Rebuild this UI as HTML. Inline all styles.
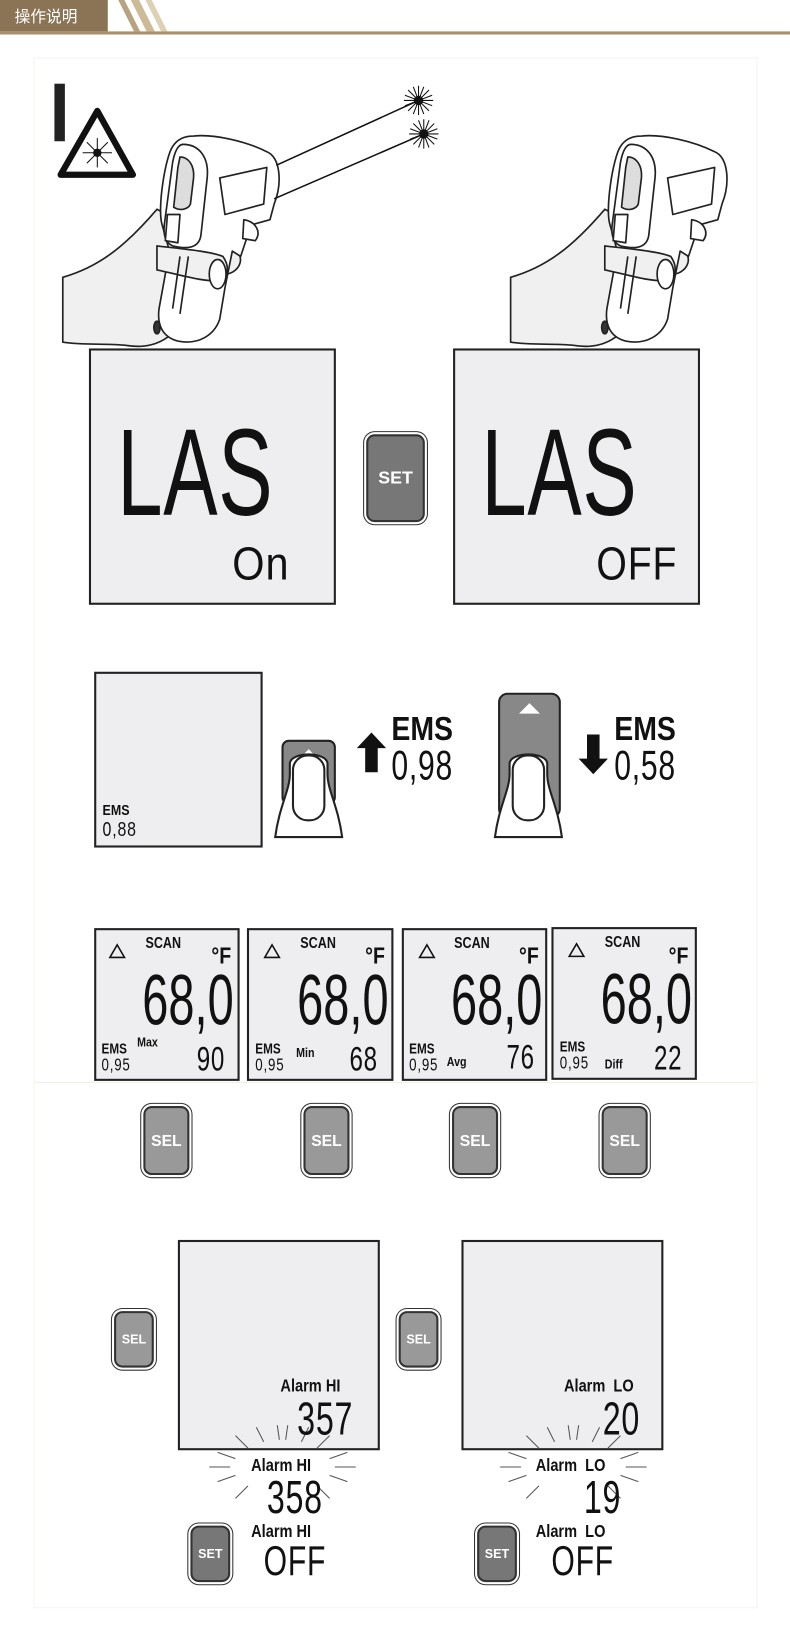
<!DOCTYPE html>
<html><head><meta charset="utf-8"><style>
html,body{margin:0;padding:0;background:#fff;width:790px;height:1640px;overflow:hidden}
#w{position:absolute;left:0;top:0;width:755px;height:1568px;transform:scale(1.04636);transform-origin:0 0;font-family:"Liberation Sans","Noto Sans CJK SC",sans-serif}
.a{position:absolute}
.lcd{position:absolute;background:#eeeef0;border:2px solid #222;box-sizing:border-box}
.seg{position:absolute;font-family:"Liberation Sans",sans-serif;color:#111;transform-origin:0 0;white-space:nowrap;line-height:1;letter-spacing:1px}
.b{position:absolute;font-weight:bold;font-family:"Liberation Sans",sans-serif;color:#111;transform-origin:0 0;white-space:nowrap;line-height:1}
.btn{position:absolute;border:2px solid #333;border-radius:8px;box-shadow:0 0 0 2px #fff,0 0 0 3px #333;color:#fff;font-weight:bold;display:flex;align-items:center;justify-content:center;font-family:"Liberation Sans",sans-serif}
</style></head><body><div id="w">
<div class="a" style="left:0;top:0;width:103px;height:30px;background:#8a7455"></div>
<div class="a" style="left:14px;top:5px;color:#fff;font-size:15px;font-family:'Noto Sans CJK SC',sans-serif">操作说明</div>
<svg class="a" style="left:95px;top:0" width="70" height="31"><polygon points="8,0 18,0 33,30 23,30" fill="#fff"/><polygon points="18,0 24,0 39,30 33,30" fill="#b8a380"/><polygon points="24,0 30,0 45,30 39,30" fill="#fff"/><polygon points="30,0 38,0 53,30 45,30" fill="#cdbb98"/><polygon points="38,0 44,0 59,30 53,30" fill="#fff"/><polygon points="44,0 50,0 65,30 59,30" fill="#ddd0b5"/></svg>
<div class="a" style="left:0;top:30px;width:755px;height:3px;background:#a8916d"></div>
<div class="a" style="left:32px;top:55px;width:690px;height:1480px;border:1px solid #f6f3ee"></div>

<svg class="a" style="left:0;top:60px" width="755" height="280" viewBox="0 60 755 280">
<rect x="52" y="80" width="10" height="55" fill="#222"/>
<polygon points="93,106 127,167 58,167" fill="none" stroke="#111" stroke-width="6" stroke-linejoin="round"/>
<g stroke="#111" stroke-width="1"><line x1="93" y1="132" x2="93" y2="160"/><line x1="79" y1="146" x2="107" y2="146"/><line x1="83" y1="136" x2="103" y2="156"/><line x1="103" y1="136" x2="83" y2="156"/></g><circle cx="93" cy="146" r="4" fill="#111"/>
<g id="gun" fill="#fff" stroke="#222" stroke-width="1.6" stroke-linejoin="round">
<path d="M60,265 C95,255 120,235 150,200 L215,235 C240,240 230,265 210,262 C190,262 190,260 180,262 L175,300 C170,320 150,335 120,330 C100,328 80,330 60,327 Z" fill="#f0f0f1"/>
<path d="M185,130 C205,128 235,135 255,145 C268,150 270,175 262,195 L258,210 L240,215 L230,245 L222,240 L215,275 L210,305 C205,320 190,330 170,326 C155,322 150,310 152,295 L162,240 L155,215 C150,200 158,150 165,140 C170,132 178,130 185,130 Z"/>
<path d="M175,138 C190,138 200,150 198,170 L192,225 C190,238 178,238 165,235 C158,232 156,225 157,215 L165,155 C167,145 170,138 175,138 Z"/>
<path d="M172,150 C180,150 186,158 185,170 L182,195 C180,200 172,202 166,198 L170,160 Z" fill="#ddd"/>
<path d="M160,205 L172,205 L170,232 L158,230 Z"/>
<path d="M210,170 L255,160 L252,195 L215,205 Z"/>
<path d="M233,210 C245,212 250,222 244,230 L232,228 Z"/>
<path d="M150,235 C175,238 200,240 213,245 C220,255 218,265 210,268 C195,270 170,262 150,258 Z" fill="#f0f0f1"/>
<ellipse cx="208" cy="262" rx="8" ry="14" fill="#fff"/>
<path d="M165,295 L172,245 M172,300 L180,245" fill="none"/>
<ellipse cx="150" cy="313" rx="3" ry="6" fill="#333"/>
</g>
<use href="#gun" transform="translate(428,0)"/>
<g stroke="#111" stroke-width="1.5"><line x1="264" y1="158" x2="400" y2="96"/><line x1="262" y1="190" x2="405" y2="128"/></g>
<g stroke="#111" stroke-width="1"><g transform="translate(400,96)"><line x1="-14" y1="0" x2="14" y2="0"/><line x1="0" y1="-14" x2="0" y2="14"/><line x1="-10" y1="-10" x2="10" y2="10"/><line x1="10" y1="-10" x2="-10" y2="10"/><line x1="-5" y1="-13" x2="5" y2="13"/><line x1="5" y1="-13" x2="-5" y2="13"/><line x1="-13" y1="5" x2="13" y2="-5"/><line x1="-13" y1="-5" x2="13" y2="5"/><circle r="4" fill="#111"/></g>
<g transform="translate(405,128)"><line x1="-14" y1="0" x2="14" y2="0"/><line x1="0" y1="-14" x2="0" y2="14"/><line x1="-10" y1="-10" x2="10" y2="10"/><line x1="10" y1="-10" x2="-10" y2="10"/><line x1="-5" y1="-13" x2="5" y2="13"/><line x1="5" y1="-13" x2="-5" y2="13"/><line x1="-13" y1="5" x2="13" y2="-5"/><line x1="-13" y1="-5" x2="13" y2="5"/><circle r="4" fill="#111"/></g></g>
</svg>

<!-- LAS screens -->
<div class="lcd" style="left:85px;top:333px;width:236px;height:245px"></div>
<div class="seg" style="left:112px;top:393px;font-size:118px;transform:scaleX(0.66)">LAS</div>
<div class="seg" style="left:222px;top:518px;font-size:44px;transform:scaleX(0.9)">On</div>
<div class="lcd" style="left:433px;top:333px;width:236px;height:245px"></div>
<div class="seg" style="left:460px;top:393px;font-size:118px;transform:scaleX(0.66)">LAS</div>
<div class="seg" style="left:570px;top:518px;font-size:44px;transform:scaleX(0.85)">OFF</div>
<div class="btn" style="left:350px;top:415px;width:52px;height:80px;background:#777;font-size:17px">SET</div>

<!-- EMS row -->
<div class="lcd" style="left:90px;top:642px;width:161px;height:168px"></div>
<div class="b" style="left:98px;top:767px;font-size:14px;transform:scaleX(0.85)">EMS</div>
<div class="seg" style="left:98px;top:784px;font-size:19px;transform:scaleX(0.8)">0,88</div>
<svg class="a" style="left:255px;top:660px" width="340" height="145">
<rect x="15" y="48" width="50" height="60" rx="6" fill="#888" stroke="#222" stroke-width="2"/><polygon points="40,56 50,66 30,66" fill="#fff"/>
<path d="M8,140 C12,110 22,95 22,80 L22,70 C22,58 58,58 58,70 L58,80 C58,95 68,110 72,140 Z" fill="#fff" stroke="#222" stroke-width="2"/>
<rect x="25" y="62" width="30" height="62" rx="14" fill="#fff" stroke="#222" stroke-width="2"/>
<polygon points="100,40 86,55 94,55 94,78 106,78 106,55 114,55" fill="#111"/>
<rect x="222" y="3" width="58" height="118" rx="8" fill="#888" stroke="#222" stroke-width="2"/><polygon points="251,12 261,22 241,22" fill="#fff"/>
<path d="M218,140 C222,110 232,95 232,80 L232,70 C232,58 268,58 268,70 L268,80 C268,95 278,110 282,140 Z" fill="#fff" stroke="#222" stroke-width="2"/>
<rect x="235" y="62" width="30" height="62" rx="14" fill="#fff" stroke="#222" stroke-width="2"/>
<polygon points="312,80 298,65 306,65 306,42 318,42 318,65 326,65" fill="#111"/>
</svg>
<div class="b" style="left:374px;top:680px;font-size:32px;transform:scaleX(0.85)">EMS</div>
<div class="seg" style="left:374px;top:712px;font-size:40px;transform:scaleX(0.72)">0,98</div>
<div class="b" style="left:587px;top:680px;font-size:32px;transform:scaleX(0.85)">EMS</div>
<div class="seg" style="left:587px;top:712px;font-size:40px;transform:scaleX(0.72)">0,58</div>

<!-- 4 screens -->
<div class="a" style="left:32px;top:1034px;width:690px;height:1px;background:#f5eee2"></div>
<div class="lcd" style="left:90px;top:887px;width:139px;height:146px"></div>
<div class="lcd" style="left:236px;top:887px;width:140px;height:146px"></div>
<div class="lcd" style="left:384px;top:887px;width:139px;height:146px"></div>
<div class="lcd" style="left:527px;top:886px;width:139px;height:146px"></div>
<svg class="a" style="left:0;top:890px" width="755" height="30"><g fill="none" stroke="#111" stroke-width="1.5"><polygon points="112,13 119,25 105,25"/><polygon points="260,13 267,25 253,25"/><polygon points="408,13 415,25 401,25"/><polygon points="551,12 558,24 544,24"/></g></svg>
<div class="b" style="left:139px;top:894px;font-size:15px;transform:scaleX(0.8)">SCAN</div>
<div class="b" style="left:287px;top:894px;font-size:15px;transform:scaleX(0.8)">SCAN</div>
<div class="b" style="left:434px;top:894px;font-size:15px;transform:scaleX(0.8)">SCAN</div>
<div class="b" style="left:578px;top:893px;font-size:15px;transform:scaleX(0.8)">SCAN</div>
<div class="b" style="left:202px;top:903px;font-size:22px;transform:scaleX(0.85)">°F</div>
<div class="b" style="left:349px;top:903px;font-size:22px;transform:scaleX(0.85)">°F</div>
<div class="b" style="left:496px;top:903px;font-size:22px;transform:scaleX(0.85)">°F</div>
<div class="b" style="left:639px;top:903px;font-size:22px;transform:scaleX(0.85)">°F</div>
<div class="seg" style="left:136px;top:922px;font-size:68px;transform:scaleX(0.66);letter-spacing:0">68,0</div>
<div class="seg" style="left:284px;top:922px;font-size:68px;transform:scaleX(0.66);letter-spacing:0">68,0</div>
<div class="seg" style="left:431px;top:922px;font-size:68px;transform:scaleX(0.66);letter-spacing:0">68,0</div>
<div class="seg" style="left:574px;top:921px;font-size:68px;transform:scaleX(0.66);letter-spacing:0">68,0</div>
<div class="b" style="left:97px;top:995px;font-size:14px;transform:scaleX(0.8)">EMS</div><div class="seg" style="left:97px;top:1009px;font-size:17px;transform:scaleX(0.75)">0,95</div>
<div class="b" style="left:244px;top:995px;font-size:14px;transform:scaleX(0.8)">EMS</div><div class="seg" style="left:244px;top:1009px;font-size:17px;transform:scaleX(0.75)">0,95</div>
<div class="b" style="left:391px;top:995px;font-size:14px;transform:scaleX(0.8)">EMS</div><div class="seg" style="left:391px;top:1009px;font-size:17px;transform:scaleX(0.75)">0,95</div>
<div class="b" style="left:535px;top:993px;font-size:14px;transform:scaleX(0.8)">EMS</div><div class="seg" style="left:535px;top:1007px;font-size:17px;transform:scaleX(0.75)">0,95</div>
<div class="b" style="left:131px;top:990px;font-size:12px;transform:scaleX(0.85)">Max</div>
<div class="b" style="left:283px;top:1000px;font-size:12px;transform:scaleX(0.85)">Min</div>
<div class="b" style="left:427px;top:1009px;font-size:12px;transform:scaleX(0.85)">Avg</div>
<div class="b" style="left:578px;top:1011px;font-size:12px;transform:scaleX(0.85)">Diff</div>
<div class="seg" style="left:188px;top:995px;font-size:33px;transform:scaleX(0.7)">90</div>
<div class="seg" style="left:334px;top:995px;font-size:33px;transform:scaleX(0.7)">68</div>
<div class="seg" style="left:484px;top:993px;font-size:33px;transform:scaleX(0.7)">76</div>
<div class="seg" style="left:625px;top:994px;font-size:33px;transform:scaleX(0.7)">22</div>
<div class="btn" style="left:137px;top:1057px;width:40px;height:62px;background:#999;font-size:15px">SEL</div>
<div class="btn" style="left:290px;top:1057px;width:40px;height:62px;background:#999;font-size:15px">SEL</div>
<div class="btn" style="left:432px;top:1057px;width:40px;height:62px;background:#999;font-size:15px">SEL</div>
<div class="btn" style="left:575px;top:1057px;width:40px;height:62px;background:#999;font-size:15px">SEL</div>

<!-- Alarm -->
<div class="lcd" style="left:170px;top:1185px;width:193px;height:201px"></div>
<div class="lcd" style="left:441px;top:1185px;width:193px;height:201px"></div>
<div class="btn" style="left:109px;top:1253px;width:34px;height:50px;background:#999;font-size:12px">SEL</div>
<div class="btn" style="left:381px;top:1253px;width:34px;height:50px;background:#999;font-size:12px">SEL</div>
<div class="btn" style="left:182px;top:1458px;width:34px;height:50px;background:#777;font-size:12px">SET</div>
<div class="btn" style="left:456px;top:1458px;width:34px;height:50px;background:#777;font-size:12px">SET</div>
<svg class="a" style="left:0;top:1350px" width="755" height="100"><g stroke="#555" stroke-width="1" fill="none">
<g transform="translate(270,52)"><line x1="-70" y1="0" x2="-50" y2="0"/><line x1="50" y1="0" x2="70" y2="0"/><line x1="-62" y1="-14" x2="-45" y2="-8"/><line x1="45" y1="-8" x2="62" y2="-14"/><line x1="-62" y1="14" x2="-45" y2="8"/><line x1="45" y1="8" x2="62" y2="14"/><line x1="-45" y1="-30" x2="-33" y2="-18"/><line x1="33" y1="-18" x2="45" y2="-30"/><line x1="-25" y1="-38" x2="-18" y2="-24"/><line x1="18" y1="-24" x2="25" y2="-38"/><line x1="-5" y1="-40" x2="-3" y2="-26"/><line x1="5" y1="-40" x2="3" y2="-26"/><line x1="-45" y1="30" x2="-33" y2="18"/><line x1="33" y1="18" x2="45" y2="30"/></g>
<g transform="translate(548,52)"><line x1="-70" y1="0" x2="-50" y2="0"/><line x1="50" y1="0" x2="70" y2="0"/><line x1="-62" y1="-14" x2="-45" y2="-8"/><line x1="45" y1="-8" x2="62" y2="-14"/><line x1="-62" y1="14" x2="-45" y2="8"/><line x1="45" y1="8" x2="62" y2="14"/><line x1="-45" y1="-30" x2="-33" y2="-18"/><line x1="33" y1="-18" x2="45" y2="-30"/><line x1="-25" y1="-38" x2="-18" y2="-24"/><line x1="18" y1="-24" x2="25" y2="-38"/><line x1="-5" y1="-40" x2="-3" y2="-26"/><line x1="5" y1="-40" x2="3" y2="-26"/><line x1="-45" y1="30" x2="-33" y2="18"/><line x1="33" y1="18" x2="45" y2="30"/></g></g></svg>
<div class="b" style="left:268px;top:1316px;font-size:17px;transform:scaleX(0.82)">Alarm HI</div>
<div class="seg" style="left:284px;top:1335px;font-size:44px;transform:scaleX(0.7)">357</div>
<div class="b" style="left:539px;top:1316px;font-size:17px;transform:scaleX(0.82)">Alarm &nbsp;LO</div>
<div class="seg" style="left:576px;top:1335px;font-size:44px;transform:scaleX(0.7)">20</div>
<div class="b" style="left:240px;top:1392px;font-size:17px;transform:scaleX(0.82)">Alarm HI</div>
<div class="seg" style="left:255px;top:1410px;font-size:44px;transform:scaleX(0.7)">358</div>
<div class="b" style="left:512px;top:1392px;font-size:17px;transform:scaleX(0.82)">Alarm &nbsp;LO</div>
<div class="seg" style="left:558px;top:1410px;font-size:44px;transform:scaleX(0.7)">19</div>
<div class="b" style="left:240px;top:1455px;font-size:17px;transform:scaleX(0.82)">Alarm HI</div>
<div class="seg" style="left:252px;top:1472px;font-size:40px;transform:scaleX(0.72)">OFF</div>
<div class="b" style="left:512px;top:1455px;font-size:17px;transform:scaleX(0.82)">Alarm &nbsp;LO</div>
<div class="seg" style="left:527px;top:1472px;font-size:40px;transform:scaleX(0.72)">OFF</div>
</div></body></html>
